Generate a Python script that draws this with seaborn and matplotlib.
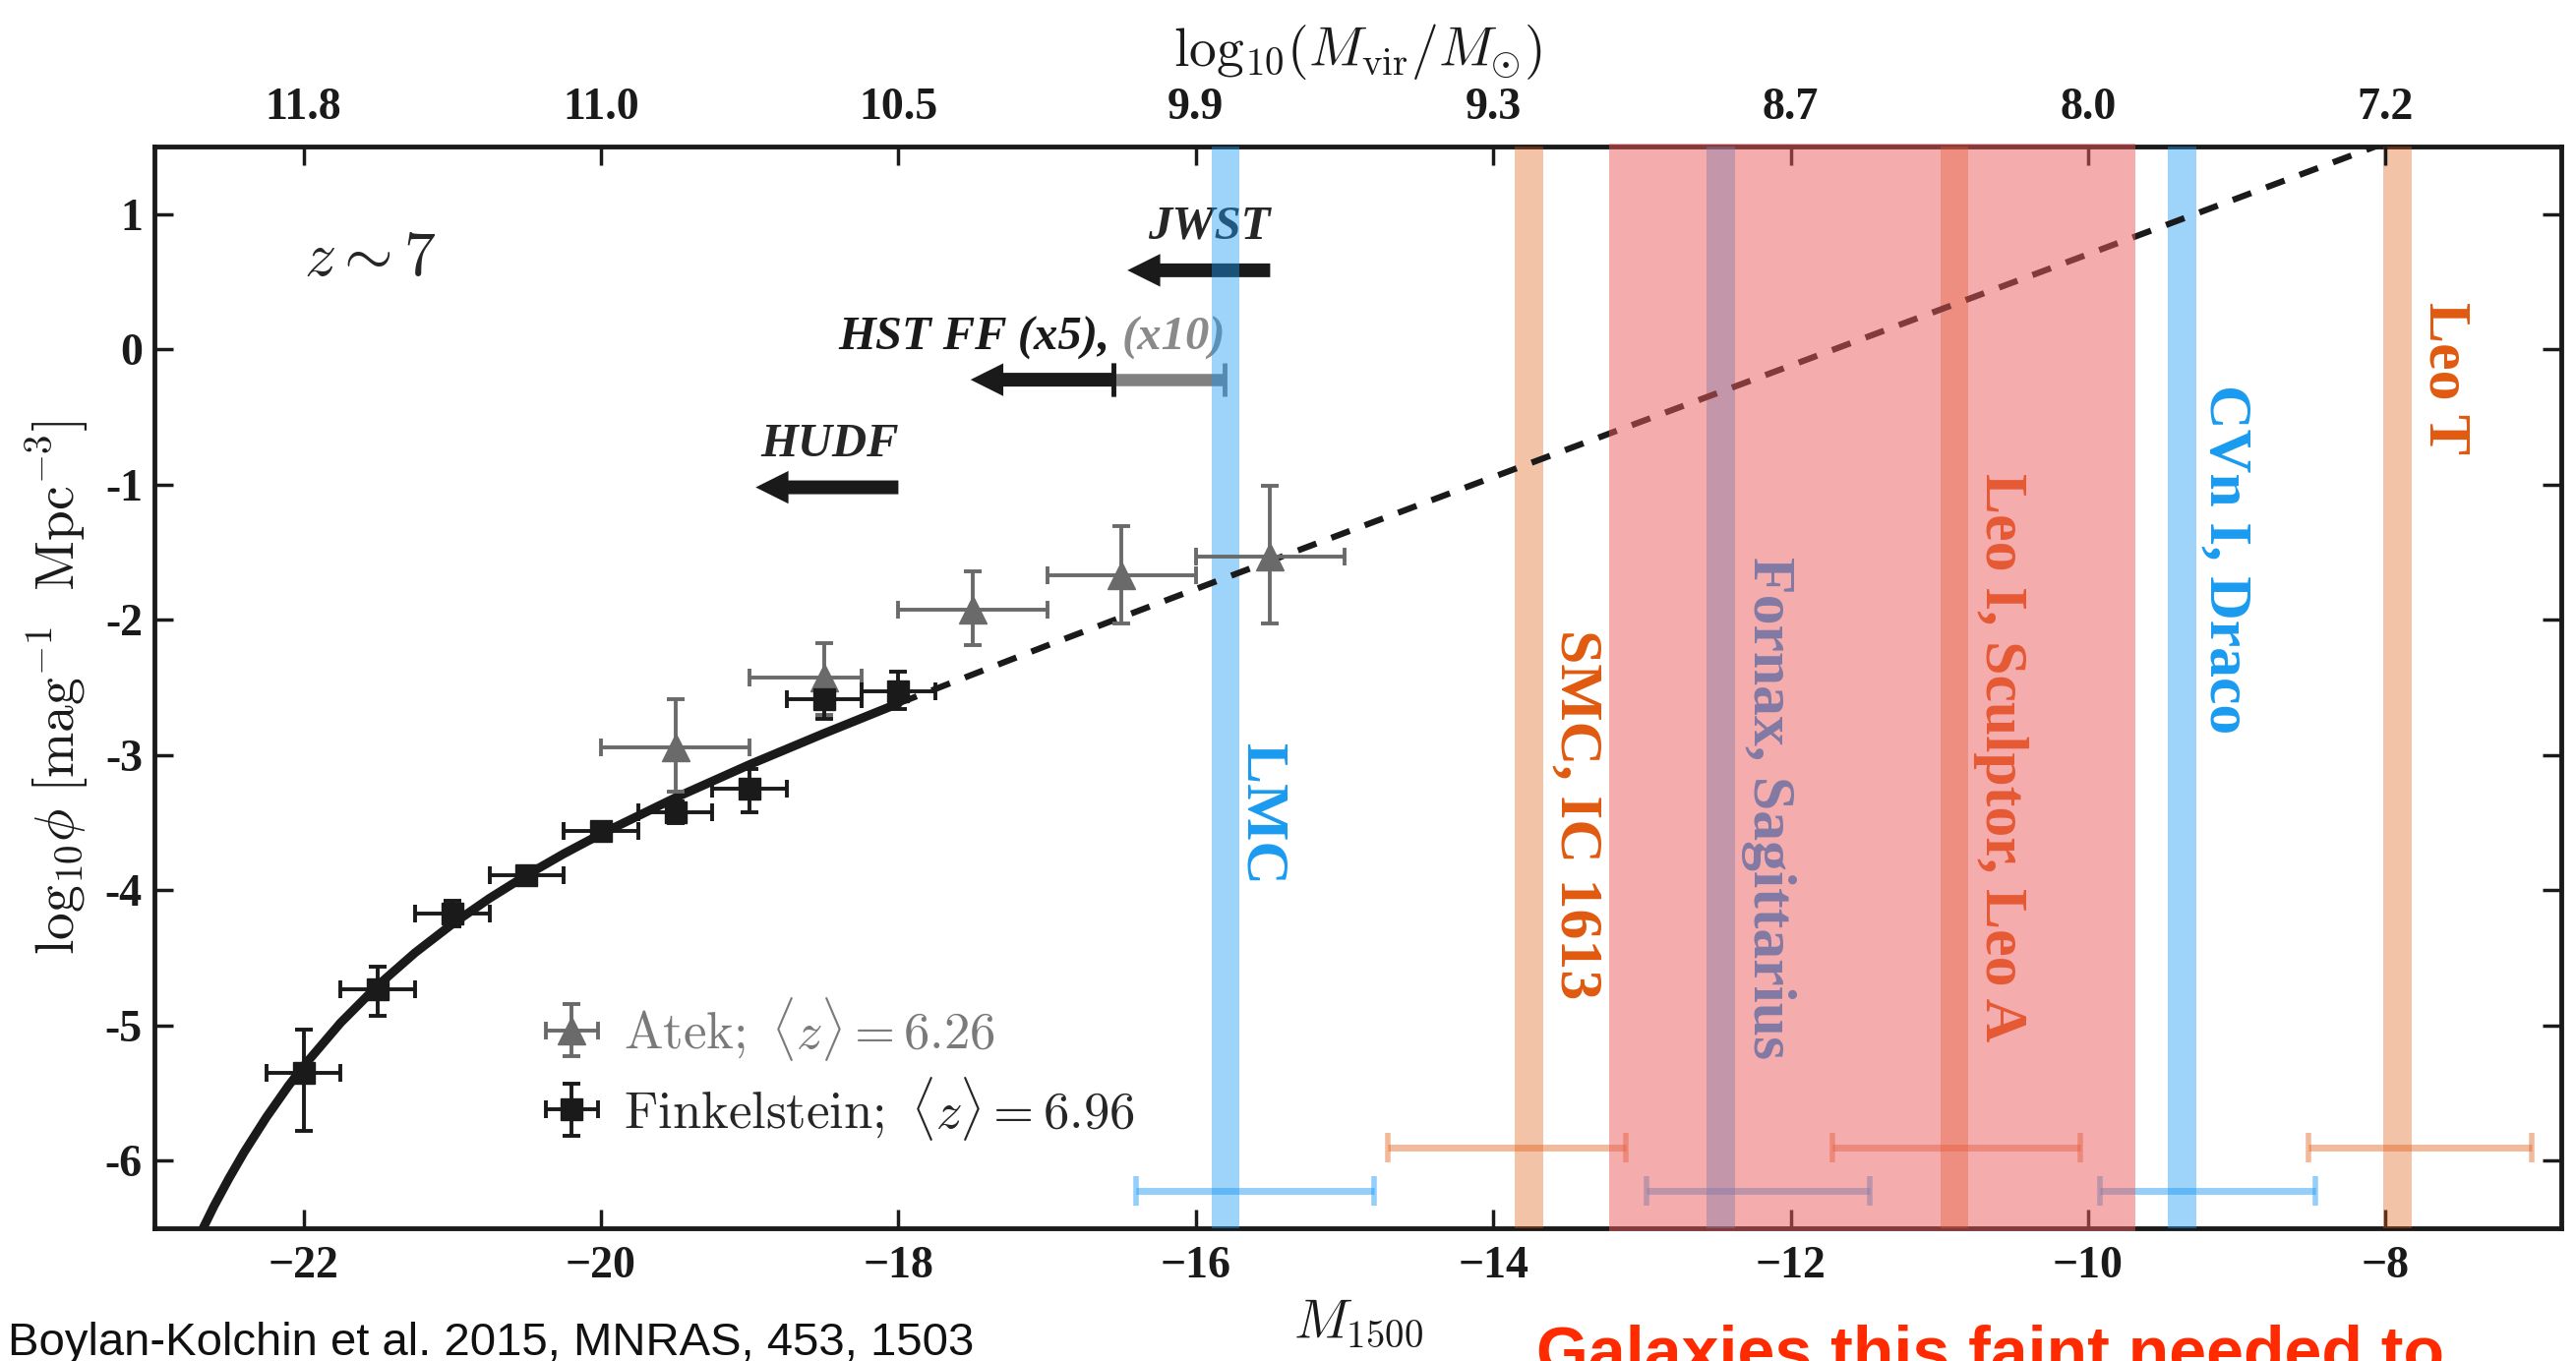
import numpy as np
import pandas as pd
import matplotlib
matplotlib.use("Agg")
import matplotlib.pyplot as plt
import seaborn as sns

# ---------------- data ----------------
fink_M = [-22.0, -21.5, -21.0, -20.5, -20.0, -19.5, -19.0, -18.5, -18.0]
fink_phi = [-5.35, -4.73, -4.17, -3.89, -3.56, -3.42, -3.25, -2.59, -2.53]
fink_err_lo = [0.43, 0.20, 0.10, 0.06, 0.05, 0.08, 0.17, 0.14, 0.13]
fink_err_hi = [0.32, 0.165, 0.09, 0.06, 0.05, 0.08, 0.15, 0.11, 0.15]
fink_xerr = [0.25, 0.25, 0.25, 0.25, 0.25, 0.25, 0.25, 0.25, 0.25]

atek_M = [-19.5, -18.5, -17.5, -16.5, -15.5]
atek_phi = [-2.94, -2.43, -1.925, -1.67, -1.53]
atek_err_lo = [0.33, 0.27, 0.265, 0.36, 0.50]
atek_err_hi = [0.35, 0.26, 0.28, 0.36, 0.52]
atek_xerr_lo = [0.5, 0.5, 0.5, 0.5, 0.5]
atek_xerr_hi = [0.5, 0.25, 0.5, 0.5, 0.5]

fit_M = [-22.75, -22.6, -22.5, -22.4, -22.25, -22.1, -22.0, -21.75, -21.5,
         -21.25, -21.0, -20.75, -20.5, -20.25, -20.0, -19.5, -19.0, -18.5, -18.0]
fit_phi = [-6.666, -6.331, -6.128, -5.938, -5.679, -5.444, -5.301, -4.979, -4.703,
           -4.462, -4.250, -4.060, -3.888, -3.730, -3.584, -3.316, -3.070, -2.840, -2.618]
ext_M = [-18.0, -17.0, -16.0, -15.0, -14.0, -12.0, -10.0, -8.0]
ext_phi = [-2.618, -2.190, -1.772, -1.357, -0.944, -0.120, 0.704, 1.529]

gal_names = ["LMC", "SMC, IC 1613", "Fornax, Sagittarius",
             "Leo I, Sculptor, Leo A", "CVn I, Draco", "Leo T"]
gal_M = [-15.80, -13.76, -12.47, -10.90, -9.37, -7.92]
gal_M_lo = [-16.40, -14.71, -12.97, -11.72, -9.92, -8.52]
gal_M_hi = [-14.80, -13.11, -11.47, -10.05, -8.47, -7.02]
gal_bar_phi = [-6.22, -5.90, -6.22, -5.90, -6.22, -5.90]
gal_kind = ["blue", "orange", "blue", "orange", "blue", "orange"]

reion_M = [-13.22, -9.68]

survey_names = ["JWST", "HST FF (x5), ", "HUDF"]
survey_lim = [-15.50, -16.555, -18.0]
survey_phi = [0.585, -0.224, -1.02]
hst_x10_lim = -15.81

x_ticks = [-22, -20, -18, -16, -14, -12, -10, -8]
x_ticklabels = ["\u221222", "\u221220", "\u221218", "\u221216", "\u221214",
                "\u221212", "\u221210", "\u22128"]
mvir_ticklabels = ["11.8", "11.0", "10.5", "9.9", "9.3", "8.7", "8.0", "7.2"]
y_ticks = [1, 0, -1, -2, -3, -4, -5, -6]
y_ticklabels = ["1", "0", "-1", "-2", "-3", "-4", "-5", "-6"]

# ---------------- styling ----------------
sns.set_theme(style="white")
plt.rcParams["font.family"] = ["Liberation Serif", "DejaVu Serif"]
plt.rcParams["mathtext.fontset"] = "cm"

BLUE = "#1e9bf5"
ORANGE = "#e0590f"
RED = "#ea5a5a"
GRAY = "#6a6a6a"
col = {"blue": BLUE, "orange": ORANGE}
alp = {"blue": 0.43, "orange": 0.36}
txtcol = {"blue": "#1a9bf0", "orange": "#e0590f"}

fig = plt.figure(figsize=(26.19, 13.84), dpi=100)
ax = fig.add_axes([0.0601, 0.0975, 0.9942 - 0.0601, 0.8923 - 0.0975])
ax.set_xlim(-23.0, -6.82)
ax.set_ylim(-6.5, 1.5)

# fit curves (seaborn)
fit_df = pd.DataFrame({"M": fit_M, "phi": fit_phi})
ext_df = pd.DataFrame({"M": ext_M, "phi": ext_phi})
sns.lineplot(data=fit_df, x="M", y="phi", ax=ax, color="k", lw=6.5,
             sort=False, estimator=None, zorder=4)
sns.lineplot(data=ext_df, x="M", y="phi", ax=ax, color="k", lw=4.5,
             sort=False, estimator=None, zorder=4, linestyle=(0, (3.2, 2.6)))

# data points
atek_h = ax.errorbar(atek_M, atek_phi, yerr=[atek_err_lo, atek_err_hi],
                     xerr=[atek_xerr_lo, atek_xerr_hi], fmt="^", color=GRAY,
                     ms=20, elinewidth=2.8, capsize=6.5, capthick=2.8, zorder=5)
fink_h = ax.errorbar(fink_M, fink_phi, yerr=[fink_err_lo, fink_err_hi],
                     xerr=fink_xerr, fmt="s", color="k", ms=16,
                     elinewidth=2.8, capsize=6.5, capthick=2.8, zorder=5)

# galaxy bands, bars and labels
lab_dx = [0.24, 0.32, 0.32, 0.31, 0.29, 0.32]
lab_y = [-3.44, -3.44, -3.39, -3.02, -1.55, -0.21]
for i, name in enumerate(gal_names):
    k = gal_kind[i]
    ax.axvspan(gal_M[i] - 0.095, gal_M[i] + 0.095, color=col[k], alpha=alp[k],
               lw=0, zorder=3)
    mid = 0.5 * (gal_M_lo[i] + gal_M_hi[i])
    half = 0.5 * (gal_M_hi[i] - gal_M_lo[i])
    ax.errorbar([mid], [gal_bar_phi[i]], xerr=[half], fmt="none",
                ecolor=col[k], alpha=alp[k] + 0.05, elinewidth=5,
                capsize=11, capthick=4, zorder=3)
    ax.text(gal_M[i] + lab_dx[i], lab_y[i], name, rotation=270, ha="center",
            va="center", fontsize=44.5, fontweight="bold", color=txtcol[k],
            zorder=6)

# survey limit arrows
arrow_style = "simple,head_length=1.0,head_width=1.0,tail_width=0.42"
ax.errorbar([0.5 * (survey_lim[1] + hst_x10_lim)], [survey_phi[1]],
            xerr=[0.5 * (hst_x10_lim - survey_lim[1])], fmt="none",
            ecolor="#808080", elinewidth=9, capsize=12, capthick=3.5, zorder=2)
ax.plot([survey_lim[1]], [survey_phi[1]], marker="|", ms=24, mew=3.5,
        color="k", zorder=2.2)
for i in range(3):
    ax.annotate("", xy=(survey_lim[i] - 0.96, survey_phi[i]),
                xytext=(survey_lim[i], survey_phi[i]),
                arrowprops=dict(arrowstyle=arrow_style, mutation_scale=24,
                                color="k", lw=0, shrinkA=0, shrinkB=0),
                zorder=2.3)

txt_kw = dict(fontsize=35, fontweight="bold", fontstyle="italic", zorder=2)
ax.text(survey_lim[0], 0.82, survey_names[0], ha="right", va="baseline", **txt_kw)
ax.text(survey_lim[2], -0.79, survey_names[2], ha="right", va="baseline", **txt_kw)
gray_t = ax.text(hst_x10_lim + 0.01, 0.0, "(x10)", ha="right", va="baseline",
                 color="#8a8a8a", **txt_kw)
ax.annotate(survey_names[1], xy=(0, 0), xycoords=gray_t, ha="right",
            va="bottom", color="k", **txt_kw)

ax.text(-21.55, 0.66, r"$z\sim7$", fontsize=46, ha="center", va="center")

# legend
leg = ax.legend(handles=[atek_h, fink_h],
                labels=[r"$\mathrm{Atek;}\ \langle z\rangle{=}6.26$",
                        r"$\mathrm{Finkelstein;}\ \langle z\rangle{=}6.96$"],
                loc="center left", bbox_to_anchor=(0.1625, 0.1473),
                frameon=False, fontsize=38, handlelength=1.0,
                handletextpad=0.5, labelspacing=0.22, borderpad=0,
                borderaxespad=0)
leg.get_texts()[0].set_color("#7a7a7a")
leg.set_zorder(6)

# axes decoration
for s in ax.spines.values():
    s.set_linewidth(3.5)
    s.set_color("k")
ax.set_xticks(x_ticks)
ax.set_xticklabels(x_ticklabels, fontsize=33, fontweight="bold")
ax.set_yticks(y_ticks)
ax.set_yticklabels(y_ticklabels, fontsize=33, fontweight="bold")
ax.tick_params(axis="x", direction="in", length=14, width=2.5, pad=13,
               bottom=True, top=False, colors="k")
ax.tick_params(axis="y", direction="in", length=14, width=2.5, pad=9,
               left=True, right=True, colors="k")
ax.set_xlabel(r"$M_{1500}$", fontsize=40, labelpad=8, color="k")
ax.set_ylabel(r"$\mathrm{log}_{10}\phi\ [\mathrm{mag}^{-1}\ \ \mathrm{Mpc}^{-3}]$",
              fontsize=40, labelpad=10, color="k")

ax2 = ax.twiny()
ax2.set_xlim(ax.get_xlim())
ax2.set_xticks(x_ticks)
ax2.set_xticklabels(mvir_ticklabels, fontsize=33, fontweight="bold")
ax2.tick_params(axis="x", direction="in", length=14, width=2.5, pad=13,
                colors="k")
for s in ax2.spines.values():
    s.set_visible(False)
ax2.set_xlabel(r"$\mathrm{log}_{10}(M_{\rm vir}/M_{\odot})$", fontsize=40,
               labelpad=16, color="k")
ax2.grid(False)
ax.grid(False)

# reionization region drawn on top of everything in the panel
ax2.axvspan(reion_M[0], reion_M[1], ymin=-0.003, ymax=1.003, color=RED,
            alpha=0.5, lw=0, zorder=10, clip_on=False)

fig.text(0.003, 0.004, "Boylan-Kolchin et al. 2015, MNRAS, 453, 1503",
         fontsize=34, family=["Liberation Sans", "DejaVu Sans"],
         ha="left", va="baseline", color="#111111")
fig.text(0.5964, -0.0087, "Galaxies this faint needed to", fontsize=49,
         family=["Liberation Sans", "DejaVu Sans"], fontweight="bold",
         ha="left", va="baseline", color="#ff2a00")

fig.savefig("out.png", dpi=100)
